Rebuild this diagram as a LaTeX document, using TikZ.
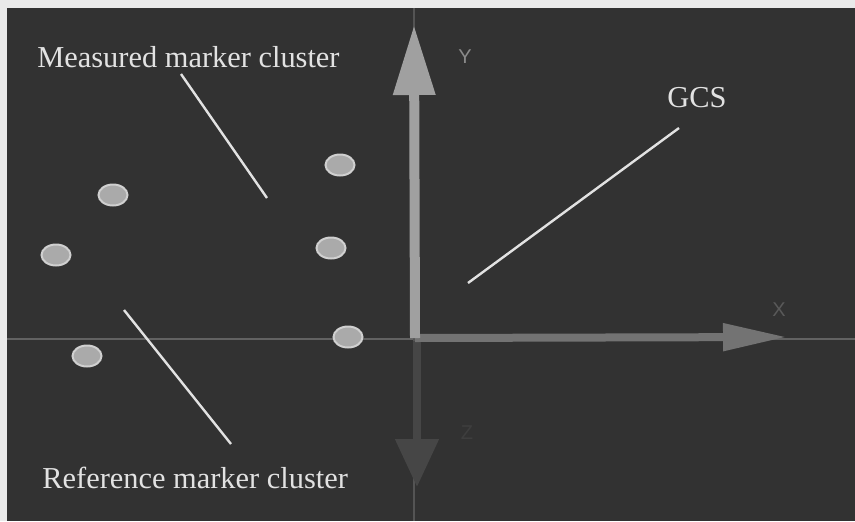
\documentclass[tikz,border=0pt]{standalone}
\usepackage{fontspec}
\setmainfont{Liberation Serif}
\setsansfont{Liberation Sans}
\usetikzlibrary{arrows.meta,positioning,shapes.geometric}
\definecolor{framegrey}{RGB}{234,234,234}
\definecolor{panelgrey}{RGB}{50,50,50}
\definecolor{textgrey}{RGB}{226,226,226}
\definecolor{dotgrey}{RGB}{170,170,170}
\definecolor{dotrim}{RGB}{208,208,208}
\definecolor{yaxisgrey}{RGB}{160,160,160}
\definecolor{xaxisgrey}{RGB}{115,115,115}
\definecolor{zaxisgrey}{RGB}{70,70,70}
\definecolor{hairgrey}{RGB}{98,98,98}
\begin{document}
\begin{tikzpicture}[x=.5pt,y=-.5pt,font=\fontsize{15.2}{18}\selectfont,
 marker/.style={ellipse,fill=dotgrey,draw=dotrim,line width=1pt,minimum width=14.5pt,minimum height=10.5pt,inner sep=0},
 callout/.style={text=textgrey,inner sep=0,anchor=base west},
 leader/.style={textgrey,line width=1.2pt},
 axislabel/.style={font=\sffamily\fontsize{10}{10}\selectfont,inner sep=0}]
\useasboundingbox (0,0) rectangle (855,521);
\fill[framegrey] (0,0) rectangle (855,521);
\fill[panelgrey] (7,8) rectangle (855,521);
% hair lines through the origin
\draw[hairgrey,line width=1pt] (7,339)--(855,339);
\draw[hairgrey!70!panelgrey,line width=1pt] (414,8)--(414,521);
% axes
\coordinate (O) at (415,338);
\coordinate (ytip) at (414,25);
\coordinate (xtip) at (787,337);
\coordinate (ztip) at (417,487);
\draw[zaxisgrey,line width=4pt,-{Triangle[length=24pt,width=21pt]}] (417,341)--(ztip);
\draw[xaxisgrey,line width=4pt,-{Triangle[length=32pt,width=13pt]}] (O)--(xtip);
\draw[yaxisgrey,line width=5pt,-{Triangle[length=35pt,width=20pt]}] (O)--(ytip);
\node[axislabel,text=yaxisgrey!80!panelgrey] (ylab) at (465,57) {Y};
\node[axislabel,text=xaxisgrey!60!panelgrey] (xlab) at (779,310) {X};
\node[axislabel,text=zaxisgrey!60!panelgrey] (zlab) at (467,433) {Z};
% marker clusters
\foreach \n/\x/\y in {mk1/340/165,mk2/331/248,mk3/348/337,mk4/113/195,mk5/56/255,mk6/87/356}
 \node[marker] (\n) at (\x,\y) {};
% labels and leader lines
\node[callout] (measured) at (37,67) {Measured marker cluster};
\node[callout] (reference) at (42,488) {Reference marker cluster};
\node[callout] (gcs) at (667,107) {GCS};
\coordinate (measured tail) at (181,74);
\coordinate (measured head) at (267,198);
\coordinate (reference tail) at (231,444);
\coordinate (reference head) at (124,310);
\coordinate (gcs tail) at (679,128);
\coordinate (gcs head) at (468,283);
\draw[leader] (measured tail)--(measured head);
\draw[leader] (reference tail)--(reference head);
\draw[leader] (gcs tail)--(gcs head);
\end{tikzpicture}
\end{document}
